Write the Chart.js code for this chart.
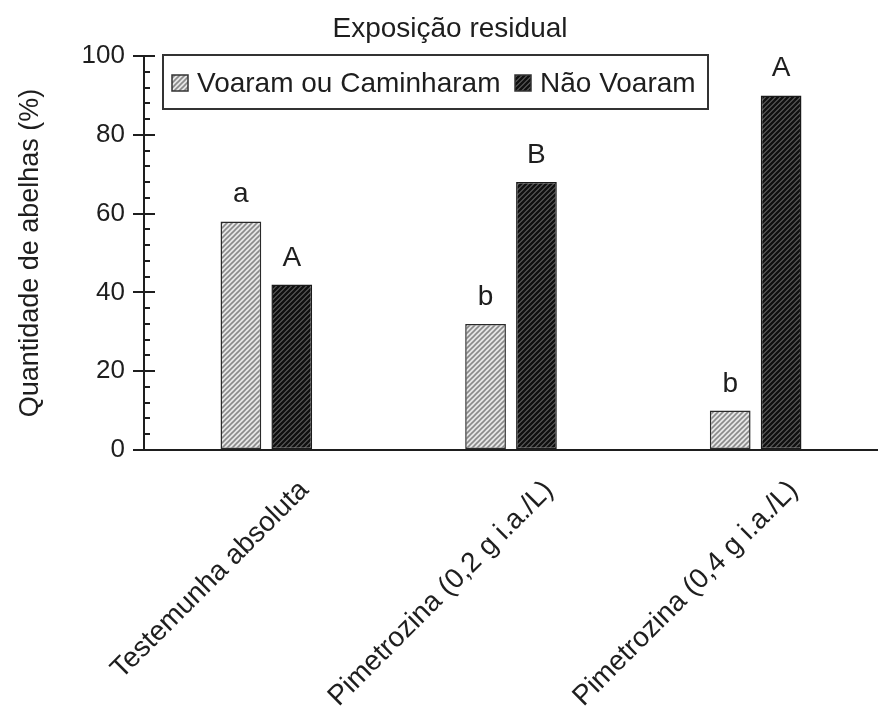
<!DOCTYPE html>
<html>
<head>
<meta charset="utf-8">
<script src="https://cdn.jsdelivr.net/npm/chart.js@4"></script>
<style>
  html, body { margin: 0; padding: 0; background: #fff; }
  #wrap { width: 878px; height: 723px; }
</style>
</head>
<body>
<div id="wrap"><canvas id="c" width="878" height="723"></canvas></div>
<script>
// ---- data ----
const categories = ['Testemunha absoluta', 'Pimetrozina (0,2 g i.a./L)', 'Pimetrozina (0,4 g i.a./L)'];
const seriesNames = ['Voaram ou Caminharam', 'Não Voaram'];
const voaram = [58, 32, 10];
const naoVoaram = [42, 68, 90];
const lettersVoaram = ['a', 'b', 'b'];
const lettersNaoVoaram = ['A', 'B', 'A'];
const titleText = 'Exposição residual';
const yTitle = 'Quantidade de abelhas (%)';
const yMin = 0, yMax = 100, yStep = 20, yMinorStep = 4;

const FONT = '"Liberation Sans", Arial, Helvetica, sans-serif';
const INK = '#1e1e1e';

function hatch(bg, fg, lw, s) {
  const c = document.createElement('canvas');
  c.width = s; c.height = s;
  const g = c.getContext('2d');
  g.fillStyle = bg; g.fillRect(0, 0, s, s);
  g.strokeStyle = fg; g.lineWidth = lw;
  g.beginPath();
  g.moveTo(-1, 1); g.lineTo(1, -1);
  g.moveTo(0, s); g.lineTo(s, 0);
  g.moveTo(s - 1, s + 1); g.lineTo(s + 1, s - 1);
  g.stroke();
  return document.getElementById('c').getContext('2d').createPattern(c, 'repeat');
}
const lightPat = hatch('#e6e6e6', '#8a8a8a', 1.6, 5);
const darkPat = hatch('#5e5e5e', '#101010', 2.4, 5);

const decor = {
  id: 'decor',
  afterDraw(chart) {
    const ctx = chart.ctx;
    const y = chart.scales.y;
    const area = chart.chartArea;
    ctx.save();
    // inside ticks
    ctx.strokeStyle = INK; ctx.lineWidth = 2;
    for (let v = yMin; v <= yMax; v += yMinorStep) {
      const py = Math.round(y.getPixelForValue(v));
      const len = (v % yStep === 0) ? 11 : 6;
      ctx.beginPath();
      ctx.moveTo(area.left, py); ctx.lineTo(area.left + len, py);
      ctx.stroke();
    }
    // letters above bars
    ctx.fillStyle = INK;
    ctx.font = '28px ' + FONT;
    ctx.textAlign = 'center'; ctx.textBaseline = 'alphabetic';
    [lettersVoaram, lettersNaoVoaram].forEach((letters, di) => {
      const meta = chart.getDatasetMeta(di);
      meta.data.forEach((bar, i) => {
        ctx.fillText(letters[i], bar.x, bar.y - 19);
      });
    });
    // title
    ctx.font = '28px ' + FONT;
    ctx.fillText(titleText, 450, 37);
    // legend
    const lx = 163, ly = 55, lw = 545, lh = 54;
    ctx.fillStyle = '#fff';
    ctx.fillRect(lx, ly, lw, lh);
    ctx.strokeStyle = '#333'; ctx.lineWidth = 2;
    ctx.strokeRect(lx, ly, lw, lh);
    ctx.font = '28px ' + FONT;
    ctx.textAlign = 'left'; ctx.textBaseline = 'middle';
    const items = [
      { name: seriesNames[0], pat: lightPat, x: 172 },
      { name: seriesNames[1], pat: darkPat, x: 515 }
    ];
    items.forEach(it => {
      ctx.fillStyle = it.pat;
      ctx.fillRect(it.x, 75, 16, 16);
      ctx.strokeStyle = '#333'; ctx.lineWidth = 1.5;
      ctx.strokeRect(it.x, 75, 16, 16);
      ctx.fillStyle = INK;
      ctx.fillText(it.name, it.x + 25, 84);
    });
    ctx.restore();
  }
};

new Chart(document.getElementById('c'), {
  type: 'bar',
  data: {
    labels: categories,
    datasets: [
      { label: seriesNames[0], data: voaram, backgroundColor: lightPat, borderColor: '#2a2a2a', borderWidth: 1.5, borderSkipped: false },
      { label: seriesNames[1], data: naoVoaram, backgroundColor: darkPat, borderColor: '#1a1a1a', borderWidth: 1.5, borderSkipped: false }
    ]
  },
  options: {
    responsive: false,
    animation: false,
    devicePixelRatio: 1,
    categoryPercentage: 0.416,
    barPercentage: 0.8,
    layout: { padding: { top: 56, right: 0, left: 14, bottom: 0 } },
    plugins: { legend: { display: false }, title: { display: false }, tooltip: { enabled: false } },
    scales: {
      x: {
        grid: { display: false },
        border: { display: true, color: INK, width: 2 },
        ticks: {
          color: INK, font: { family: FONT, size: 28 },
          minRotation: 45, maxRotation: 45, labelOffset: 38, padding: 16
        },
        afterFit(s) { s.height = 273; }
      },
      y: {
        min: yMin, max: yMax,
        grid: { display: true, drawOnChartArea: false, drawTicks: true, tickLength: 11, color: INK, lineWidth: 2 },
        border: { display: true, color: INK, width: 2 },
        ticks: { stepSize: yStep, color: INK, font: { family: FONT, size: 26 }, padding: 8 },
        title: { display: true, text: yTitle, color: INK, font: { family: FONT, size: 27 }, padding: { top: 0, bottom: 8 } },
        afterFit(s) { s.width = 130; }
      }
    }
  },
  plugins: [decor]
});
</script>
</body>
</html>
